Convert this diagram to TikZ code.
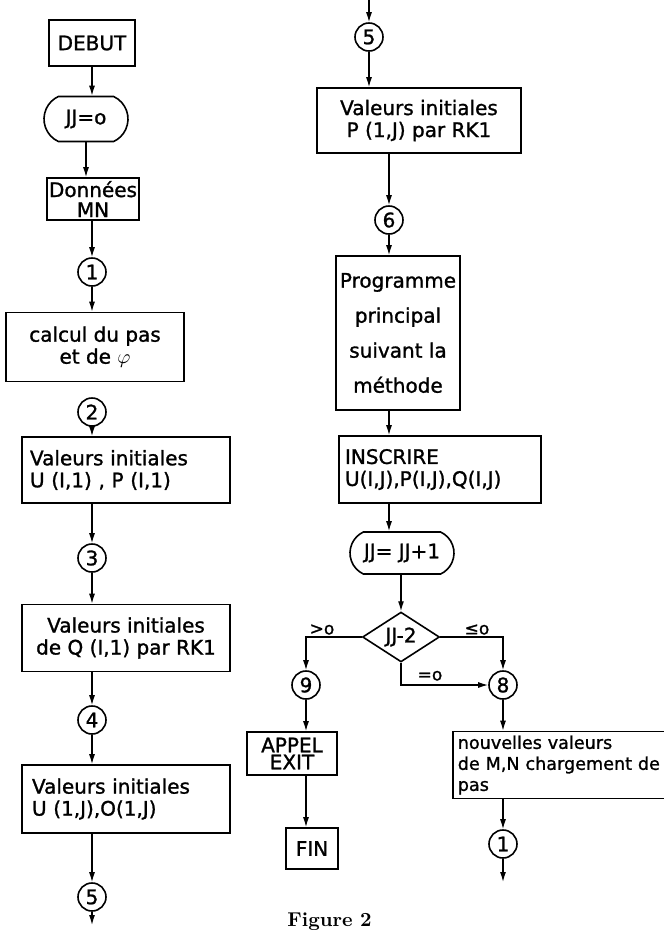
\documentclass[tikz,border=0pt]{standalone}
\usepackage{fontspec}
\newfontfamily\flowfont[FakeBold=1.2]{DejaVu Sans}
\usetikzlibrary{shapes.geometric,shapes.misc,arrows.meta}

\begin{document}
\begin{tikzpicture}[x=0.5pt, y=-0.5pt,
		every node/.style={font=\flowfont\fontsize{10}{11}\selectfont, inner sep=2pt},
		box/.style={draw, line width=0.8pt, rectangle, align=center},
		term/.style={draw, line width=0.8pt, rounded rectangle, rounded rectangle arc length=130},
		conn/.style={draw, line width=0.8pt, circle, minimum size=14pt, inner sep=0pt},
		decision/.style={draw, line width=0.8pt, diamond, minimum width=38.5pt, minimum height=21.5pt, inner sep=0pt},
		branch/.style={font=\flowfont\fontsize{8.5}{9}\selectfont, inner sep=1pt},
		link/.style={line width=0.65pt, -{Latex[length=5pt,width=3pt]}}]
		\useasboundingbox (0,0) rectangle (664,934);

		%––––– left column –––––
		\node[box, minimum width=43pt, minimum height=23pt] (debut) at (92,43) {DEBUT};

		\node[term, minimum width=46pt, minimum height=22.5pt] (jj0) at (86,119) {JJ=o};
		\draw[link] (debut.south) -- (debut.south |- jj0.north);

		\node[box, minimum width=44pt, minimum height=21pt, inner sep=1pt, font=\flowfont\fontsize{10}{10}\selectfont]
			(donnees)
			at
			(93,199)
			{Données\\MN};
		\draw[link] (jj0.south) -- (jj0.south |- donnees.north);

		\node[conn] (c1) at (92,272) {1};
		\draw[link] (donnees.south -| c1) -- (c1);

		\node[box, minimum width=89pt, minimum height=34.5pt] (calcul) at (95,347) {calcul du pas\\et de $\varphi$};
		\draw[link] (c1) -- (c1 |- calcul.north);

		\node[conn] (c2) at (92,412) {2};

		\node[box, minimum height=33pt, text width=96pt, inner xsep=4pt, align=left]
			(uinit)
			at
			(126,470)
			{Valeurs initiales\\U (I,1) , P (I,1)};
		\draw[link] (c2) -- (c2 |- uinit.north);

		\node[conn] (c3) at (92,558) {3};
		\draw[link] (c3 |- uinit.south) -- (c3);

		\node[box, minimum width=104pt, minimum height=33.5pt]
			(qinit)
			at
			(126,638)
			{Valeurs initiales\\de Q (I,1) par RK1};
		\draw[link] (c3) -- (c3 |- qinit.north);

		\node[conn] (c4) at (92,720) {4};
		\draw[link] (c4 |- qinit.south) -- (c4);

		\node[box, minimum height=34pt, text width=94pt, inner xsep=5pt, align=left]
			(ujinit)
			at
			(126,799)
			{Valeurs initiales\\U (1,J),O(1,J)};
		\draw[link] (c4) -- (c4 |- ujinit.north);

		\node[conn] (c5) at (92,897) {5};
		\draw[link] (c5 |- ujinit.south) -- (c5);

		\coordinate (outl) at (92,925);
		\draw[link] (c5) -- (outl);

		%––––– right column –––––
		\coordinate (inr) at (369,0);
		\node[conn] (c5r) at (369,37) {5};
		\draw[link] (inr) -- (c5r);

		\node[box, minimum width=102pt, minimum height=32.5pt]
			(pinit)
			at
			(419,120.5)
			{Valeurs initiales\\P (1,J) par RK1};
		\draw[link] (c5r) -- (c5r |- pinit.north);

		\node[conn] (c6) at (389,220) {6};
		\draw[link] (c6 |- pinit.south) -- (c6);

		\node[box, minimum width=60pt, minimum height=77pt, font=\flowfont\fontsize{10}{17.5}\selectfont]
			(prog)
			at
			(398,333)
			{Programme\\principal\\suivant la\\méthode};
		\draw[link] (c6) -- (c6 |- prog.north);

		\node[box, minimum height=33.5pt, text width=95pt, inner xsep=3pt, align=left]
			(inscr)
			at
			(440,469.5)
			{INSCRIRE\\U(I,J),P(I,J),Q(I,J)};
		\draw[link] (prog.south -| c6) -- (c6 |- inscr.north);

		\node[term, minimum width=54pt, minimum height=21pt, inner sep=1pt] (jj1) at (402,553) {JJ= JJ+1};
		\draw[link] (inscr.south -| c6) -- (c6 |- jj1.north);

		\node[decision] (jjtest) at (401,637) {JJ-2};
		\draw[link] (jj1.south -| jjtest) -- (jjtest.north);

		%––––– branches –––––
		\node[conn] (c9) at (306,685) {9};
		\node[conn] (c8) at (503,685) {8};
		\draw[link] (jjtest.west) -| (c9);
		\draw[link] (jjtest.east) -| (c8);
		\draw[link] (jjtest.south) |- (c8);
		\node[branch, anchor=south] (lgt) at (322,637) {>o};
		\node[branch, anchor=south] (lle) at (477,637) {≤o};
		\node[branch, anchor=south] (leq) at (430,683) {=o};

		\node[box, minimum width=45pt, minimum height=21.5pt, inner sep=0pt, font=\flowfont\fontsize{10}{8.5}\selectfont]
			(appel)
			at
			(292,753.5)
			{APPEL\\EXIT};
		\draw[link] (c9) -- (c9 |- appel.north);

		\node[box, minimum width=26pt, minimum height=20.5pt] (fin) at (312,848.5) {FIN};
		\draw[link] (appel.south -| c9) -- (c9 |- fin.north);

		\node[box, anchor=west, minimum height=33pt, text width=125pt, inner xsep=2.5pt, align=left, font=\flowfont\fontsize{8.8}{10.5}\selectfont]
			(nouv)
			at
			(452,765)
			{nouvelles valeurs\\de M,N chargement de\\pas};
		\draw[link] (c8) -- (c8 |- nouv.north);

		\node[conn] (c1r) at (503,844) {1};
		\draw[link] (c1r |- nouv.south) -- (c1r);

		\coordinate (outr) at (503,882);
		\draw[link] (c1r) -- (outr);

		\node[anchor=base west, inner sep=0pt, font=\rmfamily\bfseries\fontsize{10}{12}\selectfont] (figcap) at (287,926) {Figure 2};
	\end{tikzpicture}
\end{document}
